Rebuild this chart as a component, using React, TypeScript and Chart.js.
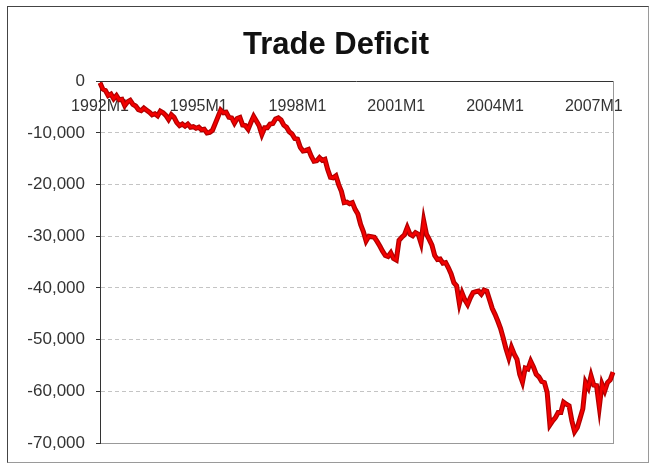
import React, { useEffect, useRef } from "react";
import { Chart, registerables } from "chart.js";

Chart.register(...registerables);

const TITLE = "Trade Deficit";
const START_YEAR = 1992;
const MONTH_COUNT = 188; // 1992M1 .. 2007M8

const categories: string[] = Array.from(
  { length: MONTH_COUNT },
  (_, i) => `${START_YEAR + Math.floor(i / 12)}M${(i % 12) + 1}`
);

const xTickLabels = ["1992M1", "1995M1", "1998M1", "2001M1", "2004M1", "2007M1"];
const yTickValues = [0, -10000, -20000, -30000, -40000, -50000, -60000, -70000];

// Monthly trade balance (one row per year)
const deficit: number[] = [
  -300, -1500, -1800, -2800, -2500, -3400, -2800, -3600, -3500, -4700, -4000, -3700,
  -4500, -4800, -5500, -5700, -5200, -5600, -6000, -6500, -6300, -6700, -5800, -6100,
  -6600, -7400, -6500, -7000, -8000, -8600, -8300, -8700, -8300, -8900, -8800, -9100,
  -8900, -9400, -9300, -10000, -9900, -9500, -8200, -6900, -5600, -6100, -6000, -7000,
  -7100, -8100, -7200, -7000, -8500, -8600, -9300, -8000, -6800, -7700, -8600, -10300,
  -9000, -9000, -8300, -8200, -7300, -7100, -7500, -8500, -8900, -9800, -10200, -11100,
  -11200, -12800, -13500, -13400, -13200, -14500, -15500, -15400, -14800, -15300, -15100, -17100,
  -18600, -18700, -18300, -20000, -21300, -23500, -23400, -23700, -23500, -24800, -25700, -27700,
  -29100, -30900, -30000, -30100, -30200, -31000, -31900, -32900, -33700, -33900, -33200, -34300,
  -34600, -30800, -30200, -29700, -28300, -29600, -29900, -29300, -29600, -31300, -27000, -29600,
  -30600, -31700, -33700, -34500, -34400, -35200, -35100, -36100, -37300, -39000, -39600, -43000,
  -41000, -42300, -43200, -41900, -40900, -40700, -40600, -41200, -40400, -40600, -42300, -44000,
  -45100, -46400, -47800, -49700, -51800, -53500, -51500, -52800, -53800, -56700, -58200, -55500,
  -55700, -54200, -55300, -56700, -57200, -58100, -58300, -60200, -66500, -65700, -65100, -64100,
  -64100, -62100, -62500, -62800, -65700, -67800, -67000, -65200, -63400, -58300, -59300, -57000,
  -58800, -58900, -63000, -58600, -59900, -58300, -57800, -56300,
];

const FONT = "'Liberation Sans', Arial, sans-serif";
const PAD_RIGHT = -16;

export default function App() {
  const canvasRef = useRef<HTMLCanvasElement | null>(null);

  useEffect(() => {
    const canvas = canvasRef.current;
    if (!canvas) return;
    Chart.defaults.font.family = FONT;

    const chart = new Chart(canvas, {
      type: "line",
      data: {
        labels: categories,
        datasets: [
          {
            label: "outline",
            data: deficit,
            borderColor: "#b00000",
            borderWidth: 5,
            pointRadius: 0,
            tension: 0,
            order: 2,
          },
          {
            label: "Trade Deficit",
            data: deficit,
            borderColor: "#f20000",
            borderWidth: 2.6,
            pointRadius: 0,
            tension: 0,
            order: 1,
          },
        ],
      },
      options: {
        responsive: false,
        animation: false,
        devicePixelRatio: 1,
        layout: { padding: { left: 0, right: PAD_RIGHT, top: 8, bottom: 31 } },
        plugins: {
          legend: { display: false },
          tooltip: { enabled: false },
          title: {
            display: true,
            text: TITLE,
            color: "#111",
            font: { family: FONT, size: 31, weight: "bold" },
            padding: { top: 19, bottom: 17 },
          },
        },
        scales: {
          x: {
            type: "category",
            position: "top",
            offset: false,
            afterFit: (s: any) => {
              s.height = 0;
            },
            grid: {
              display: true,
              drawOnChartArea: false,
              drawTicks: true,
              tickLength: 4,
              offset: false,
              tickColor: (ctx: any) =>
                xTickLabels.includes(categories[ctx.index]) ? "#333" : "rgba(0,0,0,0)",
              lineWidth: 0,
            },
            border: { display: true, color: "#333", width: 1 },
            ticks: {
              autoSkip: false,
              maxRotation: 0,
              minRotation: 0,
              mirror: true,
              padding: 16,
              color: "#333",
              font: { family: FONT, size: 16 },
              callback: (_v: any, i: number) =>
                xTickLabels.includes(categories[i]) ? categories[i] : "",
            },
          },
          x2: {
            type: "category",
            position: "bottom",
            afterFit: (s: any) => {
              s.height = 0;
            },
            grid: { display: false },
            ticks: { display: false },
            border: { display: true, color: "#999", width: 1 },
          },
          y: {
            type: "linear",
            position: "left",
            min: yTickValues[yTickValues.length - 1],
            max: yTickValues[0],
            afterFit: (s: any) => {
              s.width = 100;
            },
            afterBuildTicks: (s: any) => {
              s.ticks = yTickValues.map((v) => ({ value: v }));
            },
            grid: {
              display: true,
              drawOnChartArea: true,
              drawTicks: true,
              tickLength: 4,
              tickColor: "#333",
              color: (ctx: any) => {
                const v = ctx.tick ? ctx.tick.value : null;
                if (v === 0) return "rgba(0,0,0,0)";
                if (v === -70000) return "#999";
                return "#c4c4c4";
              },
              lineWidth: 1,
            },
            border: {
              display: true,
              color: "#333",
              width: 1,
              dash: (ctx: any) =>
                ctx.tick && ctx.tick.value === -70000 ? [] : [4, 3],
            },
            ticks: {
              padding: 11,
              color: "#333",
              font: { family: FONT, size: 17 },
              callback: (v: any) => Number(v).toLocaleString("en-US"),
            },
          },
          y2: {
            type: "linear",
            position: "right",
            afterFit: (s: any) => {
              s.width = 656 - PAD_RIGHT - 613;
            },
            grid: { display: false },
            ticks: { display: false },
            border: { display: true, color: "#999", width: 1 },
          },
        },
      },
    });

    return () => {
      chart.destroy();
    };
  }, []);

  return (
    <div
      style={{
        position: "absolute",
        left: 0,
        top: 0,
        width: 656,
        height: 474,
        background: "#ffffff",
        overflow: "hidden",
      }}
    >
      <canvas
        ref={canvasRef}
        width={656}
        height={474}
        style={{ display: "block", width: 656, height: 474 }}
      />
      <div
        style={{
          position: "absolute",
          left: 7,
          top: 6,
          width: 642,
          height: 457,
          boxSizing: "border-box",
          borderLeft: "1px solid #444",
          borderTop: "1px solid #444",
          borderRight: "1px solid #9a9a9a",
          borderBottom: "1px solid #9a9a9a",
          pointerEvents: "none",
        }}
      />
    </div>
  );
}
